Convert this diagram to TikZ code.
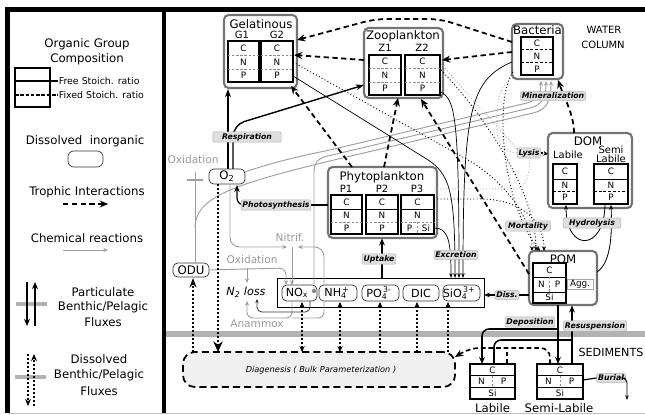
\documentclass[tikz,border=0pt]{standalone}
\usepackage{fontspec}
\setmainfont{DejaVu Sans}
\usetikzlibrary{arrows.meta,fit}
\newcommand\myfs[1]{\fontsize{#1}{#1}\selectfont}
\newcommand\cnp[5]{%
  \node[lt] (#1c) at (#2,#3) {C};
  \node[lt] (#1n) at (#2,#4) {N};
  \node[lt] (#1p) at (#2,#5) {P};}
\tikzset{
  atbox/.style n args={4}{fit={(#1,#2) (#3,#4)}, inner sep=0pt},
  grp/.style={draw=black!55, line width=1.8pt, rounded corners=4pt},
  colb/.style={draw=black, line width=1pt},
  fixd/.style={draw=black!45, dash pattern=on 2pt off 1.5pt, line width=0.5pt},
  fixb/.style={draw=black, dash pattern=on 2.5pt off 1.5pt, line width=0.7pt},
  freed/.style={draw=black, line width=0.7pt},
  lt/.style={font=\myfs{7.5}, inner sep=0pt},
  ttl/.style={font=\myfs{10}, inner sep=0pt},
  subl/.style={font=\myfs{8.5}, inner sep=0pt},
  lbl/.style={fill=black!13, draw=black!30, line width=0.4pt, rounded corners=1pt, font=\bfseries\itshape\myfs{6.6}, inner sep=1.2pt},
  nut/.style={draw=black!80, rounded corners=4pt, line width=0.6pt},
  nutt/.style={font=\myfs{9.5}, inner sep=0pt},
  troph/.style={line width=1.5pt, dash pattern=on 4.5pt off 3pt, -{Stealth[length=7pt,width=6pt]}},
  chem/.style={draw=black!38, line width=0.8pt},
  chemarr/.style={chem, -{Stealth[length=4pt,width=3.5pt]}},
  exc/.style={line width=0.6pt, -{Stealth[length=4pt,width=3pt]}},
  mort/.style={line width=0.8pt, dotted, -{Stealth[length=4pt,width=3.5pt]}},
  lys/.style={draw=black!45, line width=0.6pt, dotted},
  dflux/.style={line width=1.7pt, dash pattern=on 1.7pt off 1.7pt},
  pflux/.style={line width=1.3pt, -{Stealth[length=6pt,width=5pt]}},
  resp/.style={line width=1.2pt, -{Stealth[length=7pt,width=5pt]}},
  gtxt/.style={text=black!40, font=\myfs{9}, inner sep=0pt},
}
\begin{document}
\begin{tikzpicture}[x=0.851pt, y=-0.851pt]
\useasboundingbox (0,0) rectangle (645,415);
% frames
\draw[black!25, line width=0.6pt] (7.5,413.5) -- (645,413.5);
\draw[line width=3.5pt] (5,9.5) -- (645,9.5);
\draw[line width=3.5pt] (7.5,8) -- (7.5,413);
\draw[line width=3.5pt] (164,8) -- (164,413);

% ---------------- legend
\node[ttl] (lg1) at (87,44) {Organic Group};
\node[ttl] (lg2) at (87,59) {Composition};
\node[draw, line width=1pt, atbox={15}{68}{50}{107}] (lgbox) {};
\coordinate (lgf) at (58,81);
\coordinate (lgx) at (58,95);
\draw[line width=1pt] (15,81) -- (lgf);
\draw[line width=1pt, dash pattern=on 3pt off 1.5pt] (15,95) -- (lgx);
\node[anchor=west, font=\myfs{8}, inner sep=0.5pt] (lgft) at (lgf) {Free Stoich. ratio};
\node[anchor=west, font=\myfs{8}, inner sep=0.5pt] (lgxt) at (lgx) {Fixed Stoich. ratio};
\node[ttl] (lgd) at (85,141) {Dissolved\ \ inorganic};
\node[draw=black!80, line width=0.6pt, rounded corners=5pt, atbox={68}{151}{103}{167}] (lgdb) {};
\node[ttl] (lgt) at (87,192) {Trophic Interactions};
\coordinate (lgt1) at (63,204); \coordinate (lgt2) at (108,204);
\draw[troph, line width=1.2pt] (lgt1) -- (lgt2);
\node[ttl] (lgc) at (87,238) {Chemical reactions};
\coordinate (lgc1) at (63,250); \coordinate (lgc2) at (108,250);
\draw[chemarr] (lgc1) -- (lgc2);
\draw[line width=4pt, black!30] (16,304) -- (47,304);
\draw[pflux] (27,282) -- (27,326);
\draw[pflux] (35,326) -- (35,282);
\node[ttl] (lgp1) at (103,292) {Particulate};
\node[ttl] (lgp2) at (103,307) {Benthic/Pelagic};
\node[ttl] (lgp3) at (103,322) {Fluxes};
\draw[line width=4pt, black!30] (15,377) -- (46,377);
\draw[dflux, -{Stealth[length=6pt,width=5pt]}] (28,354) -- (28,406);
\draw[dflux, -{Stealth[length=6pt,width=5pt]}] (34,406) -- (34,354);
\node[ttl] (lgq1) at (99,359) {Dissolved};
\node[ttl] (lgq2) at (99,375) {Benthic/Pelagic};
\node[ttl] (lgq3) at (99,391) {Fluxes};

% ---------------- right panel background
\draw[line width=4.5pt, black!30] (166,334) -- (645,334);
\node[font=\myfs{8.5}, inner sep=0pt] (wat) at (604,30) {WATER};
\node[font=\myfs{8.5}, inner sep=0pt] (col) at (603,45) {COLUMN};
\node[font=\myfs{9.5}, inner sep=0pt] (sedt) at (611,352) {SEDIMENTS};

% ---------------- Gelatinous
\node[grp, atbox={224}{15}{297}{88}] (gel) {};
\node[ttl] (gelt) at (261,24) {Gelatinous};
\node[subl] (g1t) at (242,35) {G1};
\node[subl] (g2t) at (277,35) {G2};
\node[colb, atbox={228}{41}{259}{82}] (g1) {};
\node[colb, atbox={261}{41}{293}{82}] (g2) {};
\draw[fixd] (228,55) -- (259,55); \draw[fixd] (228,69) -- (259,69);
\draw[fixd] (261,55) -- (293,55); \draw[fixd] (261,69) -- (293,69);
\cnp{ga}{243.5}{48}{62}{75.5}
\cnp{gb}{277}{48}{62}{75.5}

% ---------------- Zooplankton
\node[grp, atbox={364}{28}{443}{98}] (zoo) {};
\node[ttl] (zoot) at (403,36) {Zooplankton};
\node[subl] (z1t) at (385,48) {Z1};
\node[subl] (z2t) at (422,48) {Z2};
\node[colb, atbox={369}{55}{401}{95}] (z1) {};
\node[colb, atbox={405}{55}{440}{95}] (z2) {};
\draw[fixd] (369,68) -- (401,68); \draw[fixd] (369,82) -- (401,82);
\draw[fixd] (405,68) -- (440,68); \draw[fixd] (405,82) -- (440,82);
\cnp{za}{385}{61.5}{75}{88.5}
\cnp{zb}{422.5}{61.5}{75}{88.5}

% ---------------- Bacteria
\node[grp, atbox={512}{24}{563}{79}] (bac) {};
\node[ttl] (bact) at (537.5,30.5) {Bacteria};
\node[colb, atbox={521}{37}{553}{75}] (b1) {};
\draw[fixb] (521,49.5) -- (553,49.5); \draw[fixb] (521,62.5) -- (553,62.5);
\cnp{ba}{537}{43.5}{56}{69}

% ---------------- Phytoplankton
\node[grp, atbox={328}{167}{437}{238}] (phy) {};
\node[ttl] (phyt) at (382,177) {Phytoplankton};
\node[subl] (p1t) at (346,189) {P1};
\node[subl] (p2t) at (382,189) {P2};
\node[subl] (p3t) at (417,189) {P3};
\node[colb, atbox={331}{195}{362}{234}] (p1) {};
\node[colb, atbox={366}{195}{398}{234}] (p2) {};
\node[colb, atbox={401}{195}{434}{234}] (p3) {};
\foreach \a/\b in {331/362,366/398,401/434}{
  \draw[freed] (\a,209) -- (\b,209);
  \draw[fixd] (\a,222) -- (\b,222);}
\draw[fixd] (417.5,222) -- (417.5,234);
\cnp{pa}{346.5}{202}{215.5}{228.5}
\cnp{pb}{382}{202}{215.5}{228.5}
\node[lt] (pcc) at (417.5,202) {C};
\node[lt] (pcn) at (417.5,215.5) {N};
\node[lt] (pcp) at (409.5,228.5) {P};
\node[lt] (pcs) at (426,228.5) {Si};

% ---------------- DOM
\node[grp, atbox={548}{133}{632}{208}] (dom) {};
\node[ttl] (domt) at (588,141) {DOM};
\node[subl] (doml) at (568,155) {Labile};
\node[subl] (doms1) at (611,150) {Semi};
\node[subl] (doms2) at (611,158.5) {Labile};
\node[colb, atbox={553}{164}{577}{204}] (dl) {};
\node[colb, atbox={594}{164}{628}{204}] (ds) {};
\draw[freed] (553,179) -- (577,179); \draw[fixb] (553,191) -- (577,191);
\draw[freed] (594,179) -- (628,179); \draw[fixb] (594,191) -- (628,191);
\cnp{da}{565}{171.5}{185}{197.5}
\cnp{db}{611}{171.5}{185}{197.5}

% ---------------- POM
\node[grp, atbox={529}{251}{597}{305}] (pom) {};
\node[ttl] (pomt) at (563,259) {POM};
\node[colb, atbox={533}{263}{566}{303}] (pm) {};
\draw[freed] (533,277) -- (566,277); \draw[freed] (533,292) -- (566,292);
\draw[fixd] (549.5,277) -- (549.5,292);
\node[lt] (pmc) at (549.5,270) {C};
\node[lt] (pmn) at (541.5,284.5) {N};
\node[lt] (pmp) at (557.5,284.5) {P};
\node[lt] (pms) at (549.5,297.5) {Si};
\node[draw=black!35, line width=0.4pt, fill=white, atbox={567}{279}{593}{289}] (agg) {};
\node[font=\myfs{7.5}, inner sep=0pt] (aggt) at (agg.center) {Agg.};

% ---------------- Sediment pools
\node[colb, atbox={470}{364}{515}{399}] (sl) {};
\node[colb, atbox={537}{364}{583}{399}] (ss) {};
\draw[freed] (470,375.5) -- (515,375.5); \draw[freed] (470,387.5) -- (515,387.5);
\draw[freed] (537,375.5) -- (583,375.5); \draw[freed] (537,387.5) -- (583,387.5);
\draw[fixd] (492.5,375.5) -- (492.5,387.5);
\draw[fixd] (560,375.5) -- (560,387.5);
\node[lt] (slc) at (492.5,370) {C};
\node[lt] (sln) at (481.5,381.5) {N};
\node[lt] (slp) at (503.5,381.5) {P};
\node[lt] (sls) at (492.5,393.5) {Si};
\node[lt] (ssc) at (560,370) {C};
\node[lt] (ssn) at (548.5,381.5) {N};
\node[lt] (ssp) at (571.5,381.5) {P};
\node[lt] (sss) at (560,393.5) {Si};
\node[ttl] (slt) at (492.5,408) {Labile};
\node[ttl] (sst) at (559,408) {Semi-Labile};

% ---------------- Dissolved inorganic pools
\node[draw, line width=0.6pt, atbox={277}{278}{484}{307}] (nutf) {};
\node[nut, atbox={282}{285}{317}{301}] (nox) {};
\node[nut, atbox={319}{285}{357}{301}] (nh4) {};
\node[nut, atbox={362}{285}{399}{301}] (po4) {};
\node[nut, atbox={403}{285}{439}{301}] (dic) {};
\node[nut, atbox={443}{285}{480}{301}] (sio) {};
\node[nut, atbox={209}{169}{245}{184}] (o2) {};
\node[nut, atbox={173}{263}{209}{277}] (odu) {};
\node[nutt] (noxt) at (297,293) {NO\textsubscript{x}};
\node[nutt] (nh4t) at (337,293) {NH\rlap{\textsubscript{4}}\textsuperscript{\,+}};
\node[nutt] (po4t) at (379,293) {PO\rlap{\textsubscript{4}}\textsuperscript{\,3-}};
\node[nutt] (dict) at (421,293) {DIC};
\node[nutt] (siot) at (459,293) {SiO\rlap{\textsubscript{4}}\textsuperscript{\,3+}};
\node[nutt, font=\myfs{10}] (o2t) at (227,176.5) {O\textsubscript{2}};
\node[nutt, font=\myfs{10}] (odut) at (191,270) {ODU};
\node[font=\itshape\myfs{9.5}, inner sep=0pt] (n2) at (246,292.5) {N\textsubscript{2} loss};

% ---------------- Diagenesis
\node[draw, line width=1.5pt, dash pattern=on 6pt off 3.5pt, rounded corners=10pt, fill=black!6, atbox={183}{352}{455}{387}] (diag) {};
\node[font=\itshape\myfs{7}, inner sep=0pt] (diagt) at (321,370) {Diagenesis ( Bulk Parameterization )};

% ---------------- chemical reactions (gray)
\node[gtxt] (oxt1) at (193,160) {Oxidation};
\node[gtxt] (oxt2) at (252,260) {Oxidation};
\node[gtxt] (nitt) at (290,237) {Nitrif.};
\node[gtxt] (anat) at (257,324) {Anammox};
\draw[chem] (195,263) -- (195,172);
\draw[chem, line width=1.6pt] (187,180) -- (203,180);
\draw[chemarr] (245,172) .. controls (265,165) and (290,158) .. (330,150) -- (527,103) .. controls (538,100) and (541,92) .. (541,81);
\draw[chemarr] (314,291) -- (314,172) .. controls (314,161) and (320,157) .. (332,155) -- (530,108) .. controls (543,105) and (546,96) .. (546,81);
\draw[chemarr] (195,228) .. controls (195,198) and (230,185) .. (334,160) -- (533,113) .. controls (547,110) and (551,100) .. (551,81);
\fill[black!45] (314,291) circle (2.2);
\draw[chemarr, rounded corners=8pt] (230,184) -- (230,247) -- (287,247);
\draw[chemarr, rounded corners=8pt] (324,285) -- (324,247) -- (298,247);
\draw[chemarr] (292,247) -- (292,285);
\draw[chemarr, rounded corners=6pt] (odu.east) -- (286,268) -- (286,285);
\draw[chemarr] (247,268) -- (247,283);
\draw[chemarr, rounded corners=5pt] (292,301) -- (292,318) -- (247,318) -- (247,301);
\draw[chem, rounded corners=5pt] (324,301) -- (324,318) -- (292,318);
\draw[black!80, line width=0.7pt, rounded corners=4pt, -{Stealth[length=3.5pt,width=3pt]}] (310,301) -- (310,312) -- (257,312) -- (257,299);

% ---------------- respiration / photosynthesis / uptake
\draw[resp] (228,169) -- (228,89);
\draw[resp, rounded corners=10pt] (233,169) -- (233,125) -- (364,85);
\draw[line width=1pt] (328,205) -- (300,205);
\draw[line width=1pt, rounded corners=6pt, -{Stealth[length=6pt,width=4.5pt]}] (250,205) -- (237,205) -- (237,185);
\draw[line width=1.3pt, -{Stealth[length=6pt,width=5pt]}] (382,278) -- (382,238.5);

% ---------------- trophic interactions
\draw[troph, rounded corners=10pt] (512,42) -- (440,19) -- (375,19) -- (297,40);
\draw[troph] (364,60) -- (294,55);
\draw[troph] (512,52) -- (442,60);
\draw[troph] (352,167) -- (291,86);
\draw[troph] (384,167) -- (398,98);
\draw[troph] (529,274) -- (421,99);
\draw[troph] (574,133) .. controls (574,115) and (565,100) .. (558,80);

% ---------------- excretion
\draw[exc] (434,228) .. controls (448,228) and (451,240) .. (451,278);
\draw[exc] (293,76) -- (425,158) .. controls (450,173) and (455,190) .. (455,278);
\draw[exc] (441,92) .. controls (455,100) and (459,115) .. (459,278);
\draw[exc] (512,62) .. controls (470,80) and (463,110) .. (463,278);

% ---------------- mortality
\draw[mort] (293,62) -- (468,160) .. controls (500,178) and (532,215) .. (532,251);
\draw[mort] (441,70) .. controls (480,110) and (536,190) .. (536,251);
\draw[mort] (513,72) .. controls (495,95) and (500,200) .. (540,251);
\draw[mort] (434,199) -- (480,199) .. controls (520,199) and (544,220) .. (544,251);

% ---------------- lysis
\draw[lys] (513,76) .. controls (495,90) and (497,110) .. (497,130) .. controls (497,145) and (505,152) .. (518,153);
\draw[lys] (441,64) -- (518,150);
\draw[lys] (434,189) -- (515,189) .. controls (525,189) and (530,175) .. (530,158);

% ---------------- hydrolysis
\draw[line width=0.7pt, -{Stealth[length=4pt,width=3.5pt]}] (597,272) .. controls (612,262) and (612,230) .. (611,205);
\draw[line width=0.7pt, -{Stealth[length=4pt,width=3.5pt]}] (605,205) .. controls (604,252) and (566,252) .. (566,205);

% ---------------- dissolved benthic fluxes
\draw[dflux, -{Stealth[length=9pt,width=8pt]}] (218,184) -- (218,352);
\draw[dflux, -{Stealth[length=8pt,width=6pt]}] (193,352) -- (193,278);
\draw[dflux, {Stealth[length=5pt,width=4.5pt]}-{Stealth[length=5pt,width=4.5pt]}] (302,352) -- (302,302);
\draw[dflux, {Stealth[length=5pt,width=4.5pt]}-{Stealth[length=5pt,width=4.5pt]}] (340,352) -- (340,302);
\draw[dflux, -{Stealth[length=5pt,width=4.5pt]}] (380,352) -- (380,302);
\draw[dflux, -{Stealth[length=5pt,width=4.5pt]}] (417,352) -- (417,302);
\draw[dflux, -{Stealth[length=5pt,width=4.5pt]}] (448,352) -- (448,302);
\draw[line width=1.4pt, dash pattern=on 4pt off 2.5pt, rounded corners=8pt, -{Stealth[length=7pt,width=6pt]}] (550,364) -- (550,348) -- (470,348) -- (455,357);
\draw[line width=1.4pt, dash pattern=on 4pt off 2.5pt, rounded corners=6pt] (507,364) -- (507,348);

% ---------------- particulate benthic fluxes
\draw[pflux] (558,305) -- (558,364);
\draw[pflux, rounded corners=6pt] (558,329) -- (482,329) -- (482,364);
\draw[pflux] (572,364) -- (572,305.5);
\draw[line width=1.3pt, rounded corners=6pt] (494,364) -- (494,340) -- (572,340);

% ---------------- labels
\node[lbl, minimum width=58pt] (resl) at (247,137) {Respiration};
\node[lbl] (phol) at (276,205) {Photosynthesis};
\node[lbl] (uptl) at (379,259) {Uptake};
\node[lbl] (excl) at (456,255) {Excretion};
\node[lbl, minimum width=38pt] (morl) at (528,226) {Mortality};
\node[lbl] (lysl) at (529,153) {Lysis};
\node[lbl, minimum width=49pt] (hydl) at (592,223) {Hydrolysis};
\node[lbl] (minl) at (553,96) {Mineralization};
\node[lbl] (dissl) at (507,295) {Diss.};
\node[lbl] (depl) at (530,322) {Deposition};
\node[lbl] (resu) at (595,326) {Resuspension};
\node[lbl] (burl) at (611,378) {Burial};
\draw[line width=1.8pt, dash pattern=on 1.6pt off 1.6pt, -{Stealth[length=4pt,width=4pt]}] (lysl.east) -- (548,154);
\draw[line width=1pt] (529,295) -- (dissl.east);
\draw[line width=1pt, -{Stealth[length=5pt,width=4pt]}] (dissl.west) -- (484,295);
\draw[line width=1pt] (583,380) -- (burl.west);
\draw[line width=0.8pt, rounded corners=4pt, -{Stealth[length=4pt,width=3pt]}] (burl.east) -- (627,378) -- (627,400);
\end{tikzpicture}
\end{document}
